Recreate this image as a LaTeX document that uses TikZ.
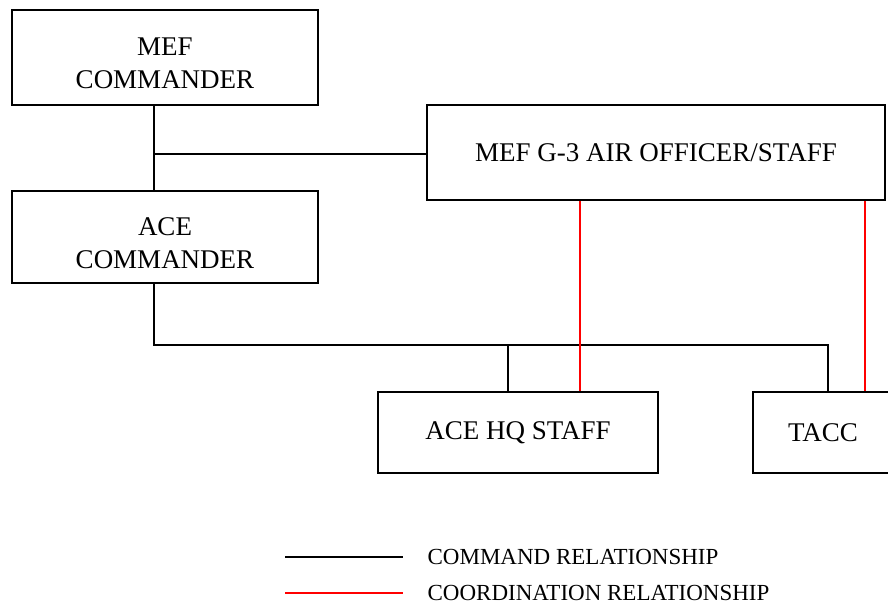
\documentclass[tikz,border=0pt]{standalone}
\usepackage{fontspec}
\setmainfont{Liberation Serif}
\usetikzlibrary{positioning}

\begin{document}
\begin{tikzpicture}[
    x = 1pt, y = -1pt, % one unit per pixel, y down
    line width = 1.3pt,
    box/.style = {draw = black, line width = 1.3pt, align = center,
                  font = \fontsize{27}{33}\selectfont, inner sep = 0pt},
    cmd/.style = {draw = black},
    coord/.style = {draw = red, line width = 1.5pt},
    legendtext/.style = {anchor = west, font = \fontsize{23}{25}\selectfont, inner sep = 0pt}
    ]

    \clip (0,0) rectangle (888,609);

    \node[box, minimum width = 306pt, minimum height = 95pt] (mef) at (165,57.5) {\mbox{}\\[-3pt]MEF\\COMMANDER};
    \node[box, minimum width = 306pt, minimum height = 92pt] (ace) at (165,237) {\mbox{}\\[-3pt]ACE\\COMMANDER};
    \node[box, minimum width = 458pt, minimum height = 95pt] (g3) at (656,152.5) {MEF G-3 AIR OFFICER/STAFF};
    \node[box, minimum width = 280pt, minimum height = 81pt] (hq) at (518,432.5) {ACE HQ STAFF};
    \node[box, minimum width = 140pt, minimum height = 81pt] (tacc) at (823,432.5) {TACC};

    \coordinate (j1) at (154,154);
    \coordinate (bus) at (154,345);
    \coordinate (hqtap) at (508,345);
    \coordinate (tacctap) at (828,345);
    \coordinate (r1) at (580,0);
    \coordinate (r2) at (865,0);

    % command lines
    \path[cmd] (j1 |- mef.south) -- (j1 |- ace.north);
    \path[cmd] (j1) -- (j1 -| g3.west);
    \path[cmd] (bus |- ace.south) -- (bus) -- (tacctap) -- (tacctap |- tacc.north);
    \path[cmd] (hqtap) -- (hqtap |- hq.north);

    % coordination lines
    \path[coord] (r1 |- g3.south) -- (r1 |- hq.north);
    \path[coord] (r2 |- g3.south) -- (r2 |- tacc.north);

    % legend
    \coordinate (la) at (285,557);
    \coordinate (lb) at (403,557);
    \coordinate (lc) at (285,593);
    \coordinate (ld) at (403,593);
    \path[cmd] (la) -- (lb);
    \path[coord] (lc) -- (ld);
    \node[legendtext] (lcmd) at (427,557) {COMMAND RELATIONSHIP};
    \node[legendtext] (lcoord) at (427,593) {COORDINATION RELATIONSHIP};
\end{tikzpicture}
\end{document}
